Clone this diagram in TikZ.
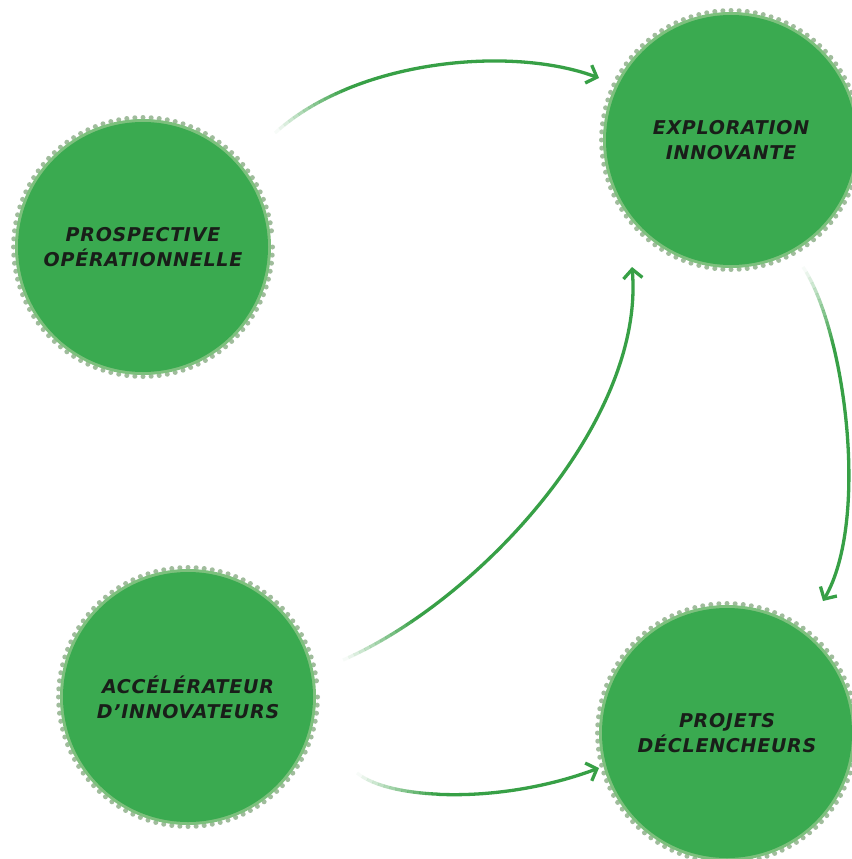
\documentclass[tikz,border=0pt]{standalone}
\usepackage{fontspec}
\setmainfont{DejaVu Sans}
\newfontfamily\disclabelfont[LetterSpace=4]{DejaVu Sans}
\usetikzlibrary{arrows.meta}
\definecolor{discfill}{RGB}{58,170,80}
\definecolor{discring}{RGB}{125,192,125}
\definecolor{discdot}{RGB}{160,188,156}
\definecolor{arrowgreen}{RGB}{55,160,70}
\definecolor{labeltext}{RGB}{25,30,25}
\tikzset{
  x=1pt, y=-1pt,
  disc/.style={circle, fill=discfill, minimum size=250pt, inner sep=0pt,
    align=center, text=labeltext,
    font=\disclabelfont\fontsize{19}{25}\selectfont\bfseries\itshape},
  flow/.style={draw=arrowgreen, line width=3.3pt, line cap=butt},
  flowtip/.style={-{Straight Barb[length=9pt,width=19pt,line width=3.3pt]}},
}
% scalloped rim around a disc centre
\newcommand{\discrim}[1]{%
  \foreach \a in {0,3.6,...,356.4}{\fill[discdot] (#1) ++(\a:129.5) circle (2.5);}
  \fill[discring] (#1) circle (128);
}
% faded-start connector: #1 start, #2 c1, #3 c2, #4 end
\newcommand{\fadedflow}[4]{%
  \foreach \k in {0,...,13}{%
    \pgfmathsetmacro{\off}{\k*6}%
    \pgfmathsetmacro{\op}{(\k+0.5)/14}%
    \draw[flow, draw opacity=\op, dash pattern=on 0pt off \off pt on 6.2pt off 3000pt]
      (#1) .. controls #2 and #3 .. (#4);}
  \draw[flow, flowtip, dash pattern=on 0pt off 84pt on 3000pt]
      (#1) .. controls #2 and #3 .. (#4);
}
\begin{document}
\begin{tikzpicture}
\useasboundingbox (0,0) rectangle (851,859);
\fill[white] (0,0) rectangle (851,859);

\coordinate (cpro) at (143,247);
\coordinate (cexp) at (731,140);
\coordinate (cacc) at (188,697);
\coordinate (cprj) at (727,733);
\discrim{cpro}
\discrim{cexp}
\discrim{cacc}
\discrim{cprj}

\node[disc] (pro) at (cpro) {PROSPECTIVE\\OPÉRATIONNELLE};
\node[disc] (exp) at (cexp) {EXPLORATION\\INNOVANTE};
\node[disc] (acc) at (cacc) {ACCÉLÉRATEUR\\D’INNOVATEURS};
\node[disc] (prj) at (cprj) {PROJETS\\DÉCLENCHEURS};

\coordinate (s1) at (275,133);  \coordinate (e1) at (599,78);
\coordinate (s2) at (803,267);  \coordinate (e2) at (823,601);
\coordinate (s3) at (343,660);  \coordinate (e3) at (632,267);
\coordinate (s4) at (357,773);  \coordinate (e4) at (599,768);

\fadedflow{s1}{(355,60)}{(510,45)}{e1}
\fadedflow{s2}{(845,330)}{(870,520)}{e2}
\fadedflow{s3}{(480,600)}{(645,420)}{e3}
\fadedflow{s4}{(390,800)}{(500,805)}{e4}
\end{tikzpicture}
\end{document}
